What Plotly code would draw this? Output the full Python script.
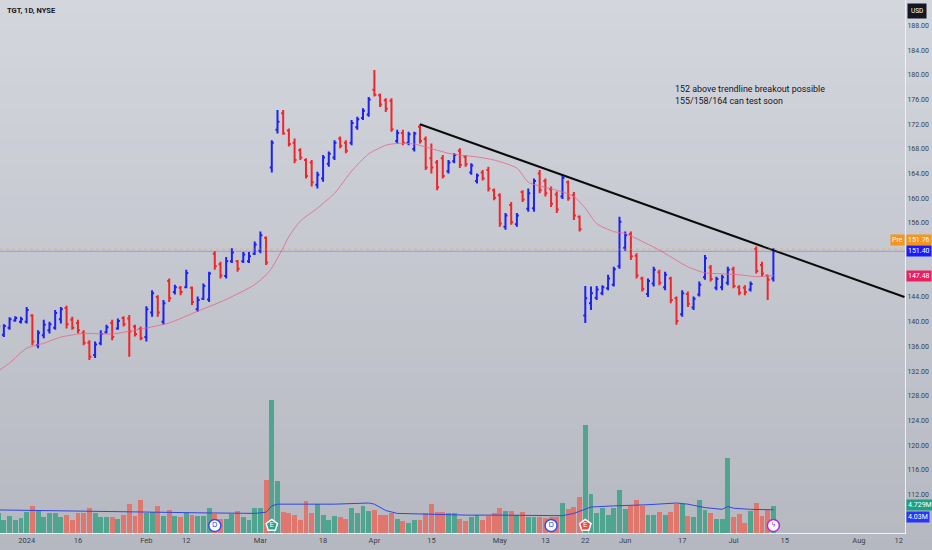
import pandas as pd
import plotly.graph_objects as go

# NYSE trading calendar for the window shown (weekends + these holidays are skipped)
holidays = ["2023-12-25", "2024-01-01", "2024-01-15", "2024-02-19",
            "2024-03-29", "2024-05-27", "2024-06-19", "2024-07-04"]
dates = pd.bdate_range("2023-12-22", "2024-07-11", freq="C", holidays=holidays)

# daily OHLC, Dec 22 2023 -> Jul 11 2024
opens = [138.2, 137.9, 139.0, 140.2, 140.0,
         140.0, 141.0, 136.2, 137.8, 138.6, 139.0, 140.4, 142.2, 140.3, 139.8, 138.2, 136.6, 134.6,
         136.5, 138.3, 139.8, 138.9, 140.6, 140.5, 139.2, 138.8,
         137.5, 141.5, 144.0, 140.0, 146.6, 144.8, 145.5, 145.6, 145.5, 142.0, 143.7, 143.6, 151.0,
         149.3, 147.4, 149.8, 149.8, 149.8, 149.8, 151.0,
         151.5, 153.6, 165.0, 171.1, 173.8, 171.0, 169.0, 167.8, 166.2, 165.8, 162.2, 163.2, 165.6,
         166.6, 169.7, 169.0, 169.0, 171.5, 173.0, 173.6,
         177.6, 176.7, 175.9, 175.8, 169.3, 170.6, 169.0, 168.0, 171.6, 169.6, 166.5, 165.8, 166.5,
         164.4, 166.0, 167.7, 166.7, 164.2, 162.8, 164.2, 164.6, 161.3,
         160.5, 155.4, 158.9, 155.8, 161.0, 158.3, 158.4, 164.0, 162.8, 161.5, 160.6, 160.3, 162.6,
         160.5, 157.0, 141.0, 143.0, 143.9, 144.6, 145.4, 146.0, 149.0,
         152.0, 154.2, 150.7, 147.0, 144.5, 146.2, 148.0, 145.6, 147.0, 143.8, 141.2, 144.5, 142.3,
         144.4, 147.2, 148.8, 145.5, 145.6, 146.3,
         148.5, 145.6, 145.5, 145.2, 151.8, 149.2, 147.5, 147.0]
highs = [139.5, 139.6, 140.7, 140.9, 140.8,
         142.4, 141.2, 138.6, 140.3, 140.0, 141.9, 142.4, 142.6, 140.8, 140.3, 138.6, 137.0, 136.8,
         138.6, 139.5, 140.3, 140.5, 140.9, 141.1, 139.5, 139.2,
         142.5, 145.1, 144.3, 143.5, 147.0, 146.0, 145.8, 148.4, 145.7, 144.1, 146.2, 148.1, 151.4,
         149.7, 150.5, 151.9, 150.0, 151.3, 151.3, 153.0,
         154.6, 153.8, 169.4, 174.3, 174.3, 171.3, 169.7, 168.1, 166.5, 166.2, 164.3, 167.0, 167.6,
         169.4, 170.0, 169.4, 172.7, 173.2, 174.6, 176.4,
         180.8, 177.0, 176.2, 176.2, 171.1, 171.1, 170.8, 170.8, 172.0, 170.0, 168.9, 166.2, 167.0,
         166.2, 167.3, 168.1, 167.0, 165.7, 164.0, 164.6, 165.1, 161.6,
         160.8, 157.6, 159.4, 157.6, 161.3, 161.6, 163.2, 164.6, 163.2, 161.9, 161.1, 163.8, 162.9,
         161.0, 157.2, 145.8, 145.7, 145.8, 145.9, 147.6, 148.9, 157.0,
         154.6, 154.6, 151.1, 147.3, 147.0, 148.9, 148.4, 148.1, 147.3, 144.1, 145.1, 144.9, 144.1,
         146.5, 150.8, 149.2, 147.3, 147.6, 148.9,
         148.9, 145.9, 145.9, 146.5, 152.2, 149.7, 147.6, 151.9]
lows = [137.6, 137.5, 138.7, 140.0, 139.7,
        139.7, 136.2, 135.7, 137.3, 138.1, 138.7, 139.7, 138.9, 138.7, 138.1, 136.2, 133.8, 134.1,
        136.2, 138.1, 137.0, 138.7, 139.2, 134.3, 137.6, 137.0,
        136.8, 140.8, 140.8, 139.5, 143.2, 144.4, 144.3, 145.4, 142.7, 141.6, 143.5, 143.2, 148.4,
        147.0, 147.0, 149.5, 148.1, 149.5, 149.5, 150.8,
        151.1, 149.2, 164.2, 170.5, 170.3, 168.4, 165.7, 166.2, 163.2, 161.9, 161.6, 162.7, 165.1,
        166.2, 168.1, 167.3, 168.6, 171.1, 172.7, 173.2,
        176.5, 174.8, 174.0, 170.8, 168.9, 168.6, 168.6, 167.6, 168.9, 164.6, 164.0, 161.3, 163.2,
        164.0, 165.7, 164.9, 165.1, 163.8, 162.4, 162.9, 161.1, 159.7,
        155.4, 154.9, 155.7, 155.4, 159.4, 157.8, 157.8, 160.8, 160.3, 158.6, 157.6, 159.9, 159.6,
        156.5, 154.6, 139.8, 141.9, 143.5, 144.3, 145.1, 145.7, 148.6,
        151.5, 150.0, 147.0, 144.9, 144.0, 145.7, 145.9, 145.1, 143.0, 139.5, 140.8, 142.4, 141.9,
        144.1, 146.8, 146.5, 145.1, 145.1, 145.9,
        145.4, 144.3, 144.3, 144.9, 147.8, 147.3, 143.5, 146.5]
closes = [139.2, 139.3, 140.4, 140.6, 140.4,
          141.9, 136.8, 138.2, 139.5, 139.6, 141.4, 142.0, 139.6, 139.0, 138.6, 136.6, 134.3, 136.3,
          138.0, 139.1, 137.5, 140.1, 139.6, 138.4, 138.0, 137.3,
          142.0, 144.6, 141.5, 143.0, 143.8, 145.6, 144.8, 147.9, 143.2, 143.5, 145.8, 147.8, 149.0,
          147.5, 149.8, 151.2, 148.6, 150.9, 150.6, 152.5,
          154.0, 149.6, 169.0, 172.4, 170.5, 168.8, 166.2, 166.6, 163.6, 162.6, 163.8, 166.6, 167.2,
          169.0, 168.5, 167.7, 172.2, 172.8, 174.2, 176.0,
          176.8, 175.2, 174.5, 171.2, 170.6, 169.0, 170.4, 170.5, 169.3, 165.0, 165.0, 161.8, 163.6,
          165.8, 167.0, 165.4, 165.5, 165.3, 163.7, 163.2, 161.6, 160.1,
          155.9, 157.2, 156.1, 157.2, 159.8, 160.8, 162.8, 161.3, 160.8, 159.1, 158.2, 163.3, 160.0,
          157.2, 155.0, 143.8, 144.6, 145.2, 145.6, 147.0, 148.5, 156.2,
          154.0, 150.6, 147.5, 145.3, 146.6, 148.4, 146.3, 147.6, 143.5, 140.1, 144.6, 142.9, 143.7,
          146.0, 150.3, 146.9, 146.9, 147.2, 148.4,
          145.8, 144.7, 144.8, 146.1, 148.2, 147.8, 146.8, 151.4]
# volume, millions of shares
volumes = [3.4, 2.3, 3.0, 2.3, 2.6,
           3.7, 4.7, 4.0, 2.8, 3.5, 3.5, 2.8, 3.1, 2.2, 3.4, 3.5, 4.3, 3.5,
           2.8, 2.8, 2.8, 2.5, 3.1, 5.0, 2.9, 5.8,
           3.5, 3.7, 4.7, 2.9, 4.0, 2.9, 2.8, 3.5, 3.1, 2.9, 2.9, 4.3, 3.3,
           2.5, 2.5, 3.3, 3.8, 2.8, 2.2, 4.4,
           4.3, 9.2, 23.0, 9.0, 3.6, 3.4, 3.1, 2.2, 5.6, 3.4, 5.0, 3.1, 2.2,
           2.9, 2.7, 2.4, 4.4, 3.5, 4.7, 3.9,
           4.0, 3.1, 3.1, 3.5, 2.4, 2.0, 1.8, 2.2, 2.2, 3.5, 5.0, 3.7, 3.7,
           3.4, 3.4, 2.4, 2.0, 2.7, 3.2, 2.3, 2.9, 3.5,
           4.4, 3.9, 3.9, 3.2, 3.6, 2.7, 2.7, 2.7, 2.6, 2.7, 2.7, 5.2, 4.1,
           4.5, 6.3, 18.8, 6.7, 3.5, 4.4, 3.2, 4.3, 7.4,
           4.2, 4.7, 5.8, 4.7, 3.2, 3.2, 3.6, 3.2, 3.6, 5.0, 5.0, 3.0, 2.7,
           5.8, 4.0, 3.5, 2.5, 2.4, 13.0,
           2.7, 3.3, 1.7, 3.8, 5.2, 3.0, 4.0, 4.729]

# price moving average (pink) read at sample dates
ma_dates = ["2023-12-22", "2023-12-27", "2024-01-02", "2024-01-05", "2024-01-10", "2024-01-17",
            "2024-01-24", "2024-01-31", "2024-02-07", "2024-02-14", "2024-02-22", "2024-02-29",
            "2024-03-04", "2024-03-05", "2024-03-06", "2024-03-07", "2024-03-08", "2024-03-12",
            "2024-03-15", "2024-03-20", "2024-03-25", "2024-03-28", "2024-04-03", "2024-04-05",
            "2024-04-10", "2024-04-12", "2024-04-18", "2024-04-22", "2024-04-25", "2024-04-30",
            "2024-05-06", "2024-05-08", "2024-05-10", "2024-05-15", "2024-05-20", "2024-05-22",
            "2024-05-24", "2024-05-30", "2024-06-03", "2024-06-06", "2024-06-11", "2024-06-13",
            "2024-06-18", "2024-06-24", "2024-06-26", "2024-07-02", "2024-07-08", "2024-07-11"]
ma_values = [132.0, 133.3, 135.7, 136.5, 137.5, 138.1,
             138.0, 138.8, 139.8, 141.7, 143.6, 146.0,
             147.6, 148.7, 150.3, 152.0, 153.8, 156.3,
             158.4, 160.8, 164.4, 167.2, 168.6, 168.9,
             168.8, 168.3, 167.3, 167.0, 166.7, 166.2,
             164.9, 162.6, 162.0, 161.3, 160.3, 158.4,
             155.9, 154.6, 154.3, 153.0, 151.6, 150.5,
             148.9, 147.9, 147.8, 147.6, 147.3, 147.48]

# volume moving average (blue) read at sample dates, millions
vma_dates = ["2023-12-22", "2024-01-22", "2024-02-14", "2024-02-29", "2024-03-04", "2024-03-05",
             "2024-03-06", "2024-03-20", "2024-03-28", "2024-04-01", "2024-04-03", "2024-04-05",
             "2024-04-16", "2024-04-23", "2024-05-01", "2024-05-09", "2024-05-16", "2024-05-20",
             "2024-05-23", "2024-05-30", "2024-06-07", "2024-06-14", "2024-06-18", "2024-06-24",
             "2024-06-27", "2024-06-28", "2024-07-01", "2024-07-05", "2024-07-11"]
vma_values = [4.0, 3.7, 3.5, 3.4, 3.6, 4.7,
              5.0, 5.0, 5.2, 5.0, 3.9, 3.4,
              3.2, 3.1, 3.1, 3.0, 3.0, 3.4,
              4.5, 4.7, 4.9, 5.2, 5.0, 4.4,
              4.1, 4.6, 4.3, 4.1, 4.03]

# drawn trendline (date, price)
trend_dates = ["2024-04-11", "2024-08-13"]
trend_prices = [172.0, 144.0]

# chart events along the bottom
event_dates = ["2024-02-20", "2024-03-05", "2024-05-14", "2024-05-22", "2024-07-11"]
event_text = ["D", "E", "D", "E", "ϟ"]

tick_dates = ["2024-01-02", "2024-01-16", "2024-02-01", "2024-02-12", "2024-03-01", "2024-03-18",
              "2024-04-01", "2024-04-15", "2024-05-01", "2024-05-13", "2024-05-22", "2024-06-03",
              "2024-06-17", "2024-07-01", "2024-07-15", "2024-08-01", "2024-08-12"]
tick_text = ["2024", "16", "Feb", "12", "Mar", "18", "Apr", "15", "May", "13", "22", "Jun",
             "17", "Jul", "15", "Aug", "12"]
# 148 and 152 sit under the price badges in the original, so they are not shown
price_ticks = [v for v in range(112, 189, 4) if v not in (148, 152)]

last_close = 151.40
pre_price = 151.76
ma_last = 147.48
vma_last = 4.03

assert len(dates) == len(opens) == len(highs) == len(lows) == len(closes) == len(volumes)

noon = pd.Timedelta(hours=12)
def mid(d):
    return pd.to_datetime(d) + noon

x = dates + noon
UP, DOWN = "#1e22f0", "#f0262a"
vol_colors = ["#4fa58f" if c >= o else "#e0776f" for o, c in zip(opens, closes)]

fig = go.Figure()

fig.add_trace(go.Bar(x=x, y=volumes, yaxis="y2", marker=dict(color=vol_colors, line_width=0),
                     width=0.86 * 86400000, hoverinfo="skip"))
fig.add_trace(go.Scatter(x=mid(vma_dates), y=vma_values, yaxis="y2", mode="lines",
                         line=dict(color="#3346e0", width=1)))

fig.add_trace(go.Scatter(x=mid(ma_dates), y=ma_values, mode="lines",
                         line=dict(color="rgba(232,104,140,0.85)", width=1, shape="spline",
                                   smoothing=0.6)))
fig.add_trace(go.Ohlc(x=x, open=opens, high=highs, low=lows, close=closes, tickwidth=0.35,
                      increasing=dict(line=dict(color=UP, width=2)),
                      decreasing=dict(line=dict(color=DOWN, width=2))))
fig.add_trace(go.Scatter(x=mid(trend_dates), y=trend_prices, mode="lines",
                         line=dict(color="#0b0b0b", width=2)))

# event badges
ev_fill = ["#ffffff", "#2aa58a", "#ffffff", "#ef4b4b", "#ffffff"]
ev_line = ["#2f4cf0", "#ffffff", "#2f4cf0", "#ffffff", "#b02ad6"]
ev_font = ["#2f4cf0", "#ffffff", "#2f4cf0", "#ffffff", "#b02ad6"]
ev_symbol = ["circle", "pentagon", "circle", "pentagon", "circle"]
fig.add_trace(go.Scatter(x=mid(event_dates), y=[1.3] * len(event_dates), yaxis="y2",
                         mode="markers+text", text=event_text, textposition="middle center",
                         textfont=dict(size=7, color=ev_font, family="DejaVu Sans"),
                         marker=dict(size=12, color=ev_fill, symbol=ev_symbol,
                                     line=dict(color=ev_line, width=1.5))))

# background gradient
shapes = []
n = 40
top, bot = (211, 214, 221), (181, 184, 192)
for i in range(n):
    t = i / (n - 1)
    c = tuple(round(top[k] + (bot[k] - top[k]) * t) for k in range(3))
    shapes.append(dict(type="rect", xref="paper", yref="paper", x0=-0.01, x1=1.05,
                       y0=1.0 - (i + 1) * 1.04 / n, y1=1.0 - i * 1.04 / n + 0.001,
                       fillcolor="rgb(%d,%d,%d)" % c, line_width=0, layer="below"))
# price lines
shapes.append(dict(type="line", xref="paper", yref="y", x0=0, x1=1, y0=pre_price, y1=pre_price,
                   line=dict(color="rgba(255,152,0,0.45)", width=1, dash="dot")))
shapes.append(dict(type="line", xref="paper", yref="y", x0=0, x1=1, y0=last_close, y1=last_close,
                   line=dict(color="rgba(90,70,230,0.35)", width=1)))

def badge(text, y, yref, bg, yshift=0, x=1.0015, xanchor="left"):
    return dict(text=text, x=x, xref="paper", y=y, yref=yref, xanchor=xanchor, yanchor="middle",
                yshift=yshift, showarrow=False, bgcolor=bg, borderpad=1,
                font=dict(size=7, color="white", family="Roboto"))

annotations = [
    dict(text="<b>TGT, 1D, NYSE</b>", x=0.006, y=0.981, xref="paper", yref="paper",
         xanchor="left", yanchor="middle", showarrow=False,
         font=dict(size=7.5, color="#131722", family="Roboto")),
    dict(text="152 above trendline breakout possible<br>155/158/164 can test soon",
         x=673 / 905, y=1 - 82 / 533, xref="paper", yref="paper", xanchor="left",
         yanchor="top", align="left", showarrow=False,
         font=dict(size=8.9, color="#131722", family="Roboto")),
    dict(text="USD", x=1.0025, y=1 - 11 / 533, xref="paper", yref="paper", xanchor="left",
         yanchor="middle", showarrow=False, bgcolor="#141720", borderpad=3,
         font=dict(size=6.5, color="white", family="Roboto")),
    badge("Pre", pre_price, "y", "#f7941d", yshift=9, x=0.9995, xanchor="right"),
    badge("%.2f" % pre_price, pre_price, "y", "#f7941d", yshift=9),
    badge("%.2f" % last_close, last_close, "y", "#1a1aff"),
    badge("%.2f" % ma_last, ma_last, "y", "#e91e63"),
    badge("%.3fM" % volumes[-1], volumes[-1], "y2", "#1f9e80", yshift=1),
    badge("%.2fM" % vma_last, vma_last, "y2", "#2a35f5", yshift=-7),
]

fig.update_layout(
    width=932, height=550,
    margin=dict(l=0, r=27, t=0, b=17, autoexpand=False),
    paper_bgcolor="#c6c9d0", plot_bgcolor="rgba(0,0,0,0)",
    showlegend=False, shapes=shapes, annotations=annotations,
    bargap=0,
    xaxis=dict(type="date", range=["2023-12-22 19:40", "2024-08-13 14:10"],
               rangebreaks=[dict(bounds=["sat", "mon"]), dict(values=holidays)],
               tickvals=mid(tick_dates), ticktext=tick_text, ticks="",
               showgrid=False, zeroline=False, showline=True, linecolor="#eef0f5", linewidth=1,
               tickfont=dict(size=7.5, color="#3b3f4a", family="Roboto"),
               rangeslider=dict(visible=False), fixedrange=True),
    yaxis=dict(side="right", range=[105.75, 192.14], tickvals=price_ticks,
               ticktext=["%.2f" % v for v in price_ticks], ticks="", showgrid=False,
               zeroline=False, showline=True, linecolor="#eef0f5", linewidth=1,
               tickfont=dict(size=7, color="#3b3f4a", family="Roboto"), fixedrange=True),
    yaxis2=dict(overlaying="y", range=[0, 92.4], visible=False, fixedrange=True),
)

# the page sits flush in the window, like the screenshot
fig.write_html("out.html", config={"displayModeBar": False},
               post_script="document.body.style.margin='0';")
